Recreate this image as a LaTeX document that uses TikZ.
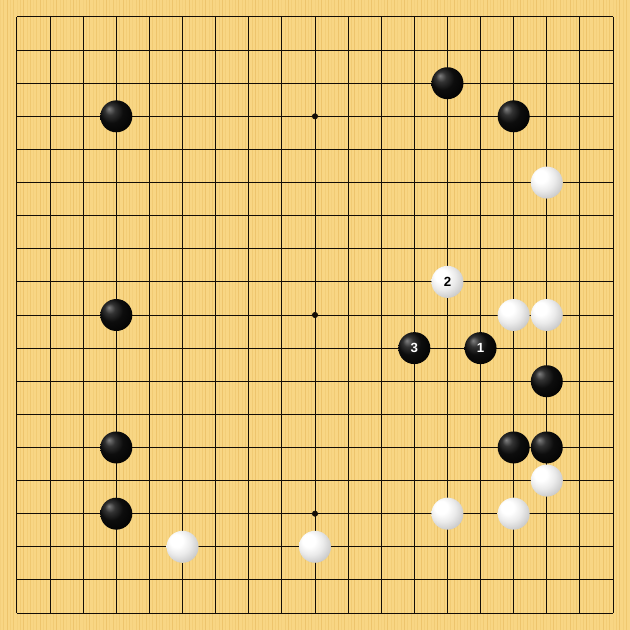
\documentclass[tikz,border=0pt]{standalone}
\usepackage{fontspec}
\setsansfont{Liberation Sans}
\definecolor{boardwood}{RGB}{248,214,132}
\definecolor{boardgrain}{RGB}{236,194,104}
\definecolor{boardline}{RGB}{20,14,6}
\pgfdeclareradialshading{blackball}{\pgfpoint{-12bp}{12bp}}{%
  color(0bp)=(black!50); color(8bp)=(black!80); color(18bp)=(black!95);
  color(36bp)=(black); color(44bp)=(black!90); color(50bp)=(black!72)}
\pgfdeclareradialshading{whiteball}{\pgfpoint{-12bp}{12bp}}{%
  color(0bp)=(white); color(10bp)=(white); color(20bp)=(black!8);
  color(30bp)=(black!20); color(40bp)=(black!38); color(50bp)=(black!55)}
\tikzset{
  stone/.style={circle, inner sep=0pt, minimum size=0.966cm*0.7},
  blackstone/.style={stone, shading=blackball, text=white, font=\sffamily\bfseries\footnotesize},
  whitestone/.style={stone, shading=whiteball, text=black, font=\sffamily\bfseries\footnotesize},
}
\begin{document}
\begin{tikzpicture}[x=0.7cm, y=-0.7cm]
      % board
      \fill[boardwood] (-0.513,-0.513) rectangle (18.513,18.513);
      \useasboundingbox (-0.513,-0.513) rectangle (18.513,18.513);
      \foreach \k in {0,...,189}
        \draw[boardgrain, line width=0.5pt, opacity={0.25+0.15*mod(\k*7,5)}]
          ({-0.5+0.1*\k},-0.513) -- ({-0.5+0.1*\k},18.513);
      \foreach \i in {0,...,18} {
        \draw[boardline, line width=0.6pt] (\i,0) -- (\i,18);
        \draw[boardline, line width=0.6pt] (0,\i) -- (18,\i);
      }
      \foreach \sx in {3,9,15}
        \foreach \sy in {3,9,15}
          \filldraw[boardline] (\sx,\sy) circle (1.6pt);
      % black stones
      \node[blackstone] (b1) at (13,2) {};
      \node[blackstone] (b2) at (3,3) {};
      \node[blackstone] (b3) at (15,3) {};
      \node[blackstone] (b4) at (3,9) {};
      \node[blackstone] (b5) at (16,11) {};
      \node[blackstone] (b6) at (3,13) {};
      \node[blackstone] (b7) at (15,13) {};
      \node[blackstone] (b8) at (16,13) {};
      \node[blackstone] (b9) at (3,15) {};
      % white stones
      \node[whitestone] (w1) at (16,5) {};
      \node[whitestone] (w2) at (15,9) {};
      \node[whitestone] (w3) at (16,9) {};
      \node[whitestone] (w4) at (16,14) {};
      \node[whitestone] (w5) at (13,15) {};
      \node[whitestone] (w6) at (15,15) {};
      \node[whitestone] (w7) at (5,16) {};
      \node[whitestone] (w8) at (9,16) {};
      % numbered moves
      \node[blackstone] (m1) at (14,10) {1};
      \node[whitestone] (m2) at (13,8) {2};
      \node[blackstone] (m3) at (12,10) {3};
    \end{tikzpicture}
\end{document}
